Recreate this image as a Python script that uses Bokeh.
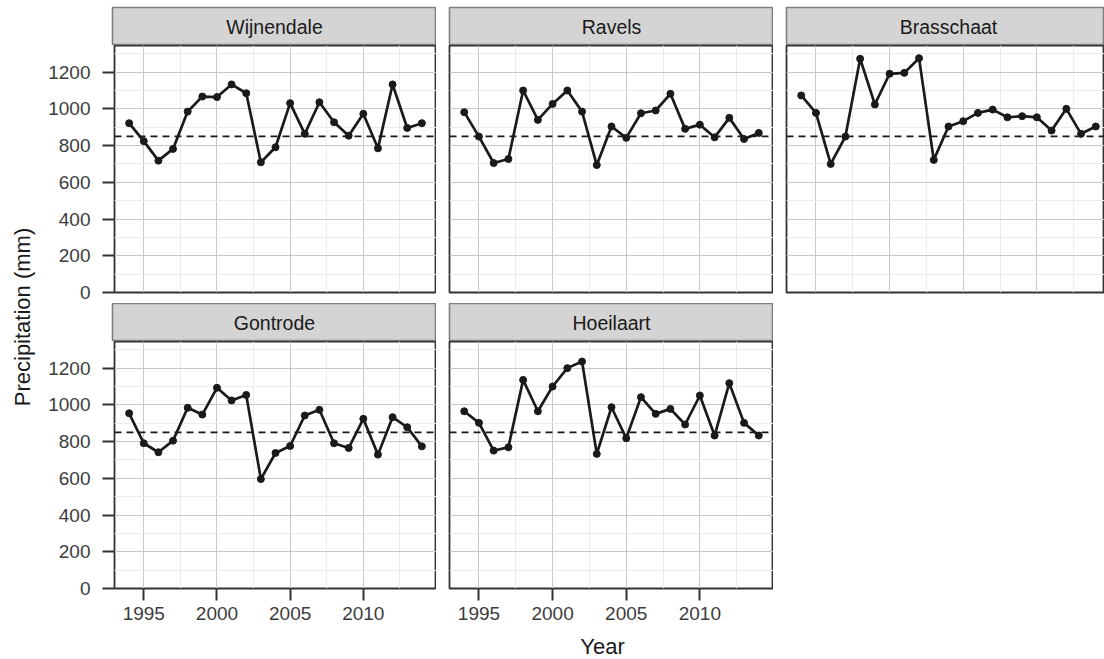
import math

from bokeh.core.properties import value
from bokeh.embed import file_html
from bokeh.layouts import column, row
from bokeh.models import FixedTicker, Range1d, Span
from bokeh.plotting import figure
from bokeh.resources import INLINE

# ---- data: annual precipitation (mm) per station ----
years = list(range(1994, 2015))
wijnendale = [922, 824, 718, 782, 985, 1067, 1064, 1133, 1085, 709, 791,
              1031, 864, 1036, 927, 854, 973, 785, 1133, 896, 922]
ravels = [982, 849, 705, 727, 1100, 940, 1027, 1100, 985, 694, 904,
          842, 976, 991, 1082, 891, 914, 845, 951, 836, 869]
brasschaat = [1073, 978, 700, 849, 1273, 1024, 1191, 1196, 1276, 722, 904,
              933, 978, 996, 954, 960, 954, 882, 1000, 864, 904]
gontrode = [954, 791, 742, 805, 984, 947, 1093, 1024, 1054, 596, 738,
            776, 942, 973, 791, 765, 924, 729, 933, 878, 774]
hoeilaart = [965, 902, 751, 769, 1136, 965, 1100, 1200, 1236, 733, 987,
             818, 1042, 951, 978, 893, 1051, 833, 1118, 902, 833]
long_term_mean = 850

x_ticks = [1995, 2000, 2005, 2010]
x_minor = [1997.5, 2002.5, 2007.5, 2012.5]
y_ticks = [0, 200, 400, 600, 800, 1000, 1200]
y_minor = [100, 300, 500, 700, 900, 1100, 1300]
x_lo, x_hi = 1993, 2015
y_lo, y_hi = 0, 1345

# ---- layout constants (px) ----
FONT = "Liberation Sans"
TITLE_W = 45          # column holding the y-axis title
AXIS_W = 67           # room for y tick labels on the first column
GAP = 13              # horizontal gap between panels
FRAME_W = 324
FRAME_H = 247
STRIP_H = 38
TOP_PAD = 7
ROW_GAP = 11
AXIS_H = 42           # room for x tick labels under the bottom row
TOTAL_W, TOTAL_H = 1104, 659
YEAR_H = TOTAL_H - (TOP_PAD + STRIP_H + FRAME_H + ROW_GAP + STRIP_H + FRAME_H + AXIS_H)

# last column is cut by the page edge: keep the same x scale
LAST_W = TOTAL_W - TITLE_W - (AXIS_W + FRAME_W) - (GAP + FRAME_W) - GAP
last_x_hi = x_lo + (x_hi - x_lo) * LAST_W / FRAME_W

DARK = "#333333"
INK = "#1a1a1a"
TICK_TEXT = "#3d3d3d"


def base_fig(width, height, left, top, bottom, x_range, y_range,
             x_axis=None, y_axis=None):
    return figure(width=width, height=height,
                  min_border_left=left, min_border_right=0,
                  min_border_top=top, min_border_bottom=bottom,
                  x_range=x_range, y_range=y_range,
                  x_axis_location=x_axis, y_axis_location=y_axis,
                  title=None, toolbar_location=None, output_backend="svg",
                  background_fill_color="white", border_fill_color="white",
                  outline_line_color=None)


def strip(name, left, top, frame_w, x_end_frac=1.0):
    p = base_fig(left + frame_w, top + STRIP_H, left, top, 0,
                 Range1d(0, x_end_frac), Range1d(0, 1))
    p.xgrid.visible = False
    p.ygrid.visible = False
    p.background_fill_color = "#d4d4d4"
    p.outline_line_color = "#7f7f7f"
    p.outline_line_width = 1.6
    p.text(x=[0.5], y=[0.5], text=[name], text_align="center",
           text_baseline="middle", text_color=INK,
           text_font=value(FONT), text_font_size="19.5px")
    return p


def panel(values, left, bottom, frame_w, x_end, show_y, show_x):
    p = base_fig(left + frame_w, FRAME_H + bottom, left, 0, bottom,
                 Range1d(x_lo, x_end), Range1d(y_lo, y_hi),
                 x_axis="below" if show_x else None,
                 y_axis="left" if show_y else None)
    p.outline_line_color = DARK
    p.outline_line_width = 1.8

    p.xgrid.ticker = FixedTicker(ticks=x_ticks, minor_ticks=x_minor)
    p.ygrid.ticker = FixedTicker(ticks=y_ticks, minor_ticks=y_minor)
    for g in (p.xgrid[0], p.ygrid[0]):
        g.grid_line_color = "#c8c8c8"
        g.grid_line_width = 1
        g.minor_grid_line_color = "#ececec"
        g.minor_grid_line_width = 1

    axes = []
    if show_x:
        ax = p.xaxis[0]
        ax.ticker = FixedTicker(ticks=x_ticks)
        ax.major_label_standoff = 6
        axes.append(ax)
    if show_y:
        ay = p.yaxis[0]
        ay.ticker = FixedTicker(ticks=y_ticks)
        ay.major_label_standoff = 12
        axes.append(ay)
    for a in axes:
        a.axis_line_color = None
        a.major_tick_line_color = DARK
        a.major_tick_line_width = 2
        a.major_tick_out = 12
        a.major_tick_in = 0
        a.minor_tick_line_color = None
        a.major_label_text_font = FONT
        a.major_label_text_font_size = "19px"
        a.major_label_text_color = TICK_TEXT

    p.add_layout(Span(location=long_term_mean, dimension="width",
                      line_color=INK, line_width=1.6, line_dash="7 5"))
    p.line(years, values, line_color=INK, line_width=2.7)
    p.scatter(years, values, size=7, fill_color=INK, line_color=INK)
    return p


# ---- top row ----
s1 = strip("Wijnendale", AXIS_W, TOP_PAD, FRAME_W)
s2 = strip("Ravels", GAP, TOP_PAD, FRAME_W)
s3 = strip("Brasschaat", GAP, TOP_PAD, LAST_W, LAST_W / FRAME_W)
p1 = panel(wijnendale, AXIS_W, ROW_GAP, FRAME_W, x_hi, True, False)
p2 = panel(ravels, GAP, ROW_GAP, FRAME_W, x_hi, False, False)
p3 = panel(brasschaat, GAP, ROW_GAP, LAST_W, last_x_hi, False, False)

# ---- bottom row ----
s4 = strip("Gontrode", AXIS_W, 0, FRAME_W)
s5 = strip("Hoeilaart", GAP, 0, FRAME_W)
p4 = panel(gontrode, AXIS_W, AXIS_H, FRAME_W, x_hi, True, True)
p5 = panel(hoeilaart, GAP, AXIS_H, FRAME_W, x_hi, False, True)

# ---- axis titles ----
inner_w = TOTAL_W - TITLE_W
xt = base_fig(inner_w, YEAR_H, 0, 0, 0, Range1d(0, inner_w), Range1d(0, YEAR_H))
xt.xgrid.visible = False
xt.ygrid.visible = False
xt.text(x=[602 - TITLE_W], y=[YEAR_H / 2 - 1], text=["Year"], text_align="center",
        text_baseline="middle", text_color=INK,
        text_font=value(FONT), text_font_size="22px")

panels_top = TOP_PAD + STRIP_H
panels_bottom = TOTAL_H - YEAR_H - AXIS_H
yt = base_fig(TITLE_W, TOTAL_H, 0, 0, 0, Range1d(0, TITLE_W), Range1d(0, TOTAL_H))
yt.xgrid.visible = False
yt.ygrid.visible = False
yt.text(x=[22], y=[TOTAL_H - (panels_top + panels_bottom) / 2],
        text=["Precipitation (mm)"], angle=math.pi / 2,
        text_align="center", text_baseline="middle", text_color=INK,
        text_font=value(FONT), text_font_size="22px")

layout = row(
    yt,
    column(row(s1, s2, s3), row(p1, p2, p3), row(s4, s5), row(p4, p5), xt),
)

with open("out.html", "w") as f:
    f.write(file_html(layout, INLINE))
